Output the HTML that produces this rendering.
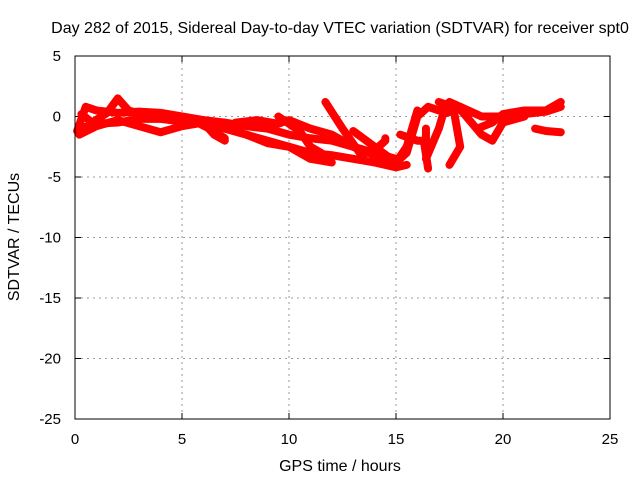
<!DOCTYPE html>
<html><head><meta charset="utf-8"><style>
body{margin:0;background:#fff}
svg{display:block;font-family:"Liberation Sans",sans-serif}
</style></head><body>
<svg width="640" height="480" id="c">
<text x="340" y="33" text-anchor="middle" font-size="16">Day 282 of 2015, Sidereal Day-to-day VTEC variation (SDTVAR) for receiver spt0</text>
<text x="340" y="471" text-anchor="middle" font-size="16">GPS time / hours</text>
<text transform="translate(19,237) rotate(-90)" text-anchor="middle" font-size="16">SDTVAR / TECUs</text>
<g id="grid"></g>
<g id="data"></g>
<rect x="75" y="56" width="535" height="363" fill="none" stroke="#000"/>
</svg>
<script>
const xTicks=[0,5,10,15,20,25];
const yTicks=[5,0,-5,-10,-15,-20,-25];
const tracks=[
[[0.1,-1.2],[0.5,0.8],[1,0.5],[2,0.3],[3,0.4],[4,0.3],[5,0],[6,-0.3],[7,-0.5],[8,-0.8],[9,-1],[10,-1.5],[11,-1.8],[12,-2],[13,-2.5],[14,-3.2],[15,-3.8],[15.5,-3],[16,0],[16.5,0.8],[17,0.5],[17.5,1.2],[18,0.8],[19,0],[20,0],[21,0.2],[22,0.4],[22.7,0.8]],
[[0.2,-1],[1,-0.6],[2,-0.5],[3,-0.2],[4,-0.2],[5,-0.4],[6,-0.3],[7,-1],[8,-1.5],[9,-2],[10,-2.5],[11,-3],[12,-3.2],[13,-3.5],[14,-3.8],[15,-4.2],[15.5,-4]],
[[0.3,0.2],[0.8,-0.5],[1.5,0.3],[2,1.5],[2.5,0.5],[3.5,0],[4.5,-0.3],[5.5,-0.3],[6.5,-1.2],[7,-1.8]],
[[0.2,-1.5],[1,-0.8],[2,-0.3],[3,-0.8],[4,-1.3],[5,-0.8],[6,-0.5],[6.5,-1.5],[7,-2]],
[[7.5,-0.5],[8.5,-0.3],[9.5,-0.6],[10,-0.3],[11,-1],[12,-1.5],[13,-2.5],[14,-3],[15,-3.5]],
[[8,-1.5],[9,-2.2],[10,-2.5],[11,-3.5],[12,-3.8]],
[[11.7,1.2],[12.5,-1],[13.5,-3.5]],
[[9.5,0],[10.5,-1.2],[11,-2.5],[11.5,-3]],
[[14,-2.8],[14.5,-2],[14.5,-1.8]],
[[15.2,-1.5],[16,-2],[16.3,-2],[16.5,-4.3]],
[[16.4,-3.5],[17,-1],[17.2,0.2],[17.7,0.5],[18,-2.5],[17.5,-4]],
[[17,1.2],[18,0.6],[19,-1.5],[19.5,-2],[20,-0.5],[21,0]],
[[18.8,-1],[19.5,-0.5],[20,0.2],[21,0.5],[22,0.5],[22.7,1.2]],
[[21.5,-1],[22,-1.2],[22.7,-1.3]],
[[16.4,-1],[16.4,-3]],
[[13,-1.2],[14,-2.5],[15,-3.8],[15.5,-2.5],[16,0.5]]
];
const NS="http://www.w3.org/2000/svg";
const X=h=>75+h*535/25, Y=v=>56+(5-v)*363/30;
const g=document.getElementById('grid'), d=document.getElementById('data');
function mk(t,a,p){const e=document.createElementNS(NS,t);for(const k in a)e.setAttribute(k,a[k]);p.appendChild(e);return e;}
xTicks.forEach(t=>{
 if(t>0&&t<25){const l=mk('line',{x1:X(t),x2:X(t),y1:56,y2:419,stroke:'#999','stroke-dasharray':'2,4'},g);
 
 }
 mk('line',{x1:X(t),x2:X(t),y1:419,y2:413,stroke:'#000'},g);
 mk('line',{x1:X(t),x2:X(t),y1:56,y2:62,stroke:'#000'},g);
 const s=mk('text',{x:X(t),y:444,'text-anchor':'middle','font-size':15},g);s.textContent=t;
 
 
});
yTicks.forEach(t=>{
 if(t<5&&t>-25){const l=mk('line',{x1:75,x2:610,y1:Y(t),y2:Y(t),stroke:'#999','stroke-dasharray':'2,4'},g);
 
 }
 mk('line',{x1:75,x2:81,y1:Y(t),y2:Y(t),stroke:'#000'},g);
 mk('line',{x1:610,x2:604,y1:Y(t),y2:Y(t),stroke:'#000'},g);
 const s=mk('text',{x:61,y:Y(t)+5,'text-anchor':'end','font-size':15},g);s.textContent=t;
 
 
});
tracks.forEach(tr=>{
 const p=mk('polyline',{points:tr.map(q=>X(q[0])+','+Y(q[1])).join(' '),fill:'none',stroke:'#f00','stroke-width':8,'stroke-linejoin':'round','stroke-linecap':'round'},d);
 
 
});
</script>
</body></html>
